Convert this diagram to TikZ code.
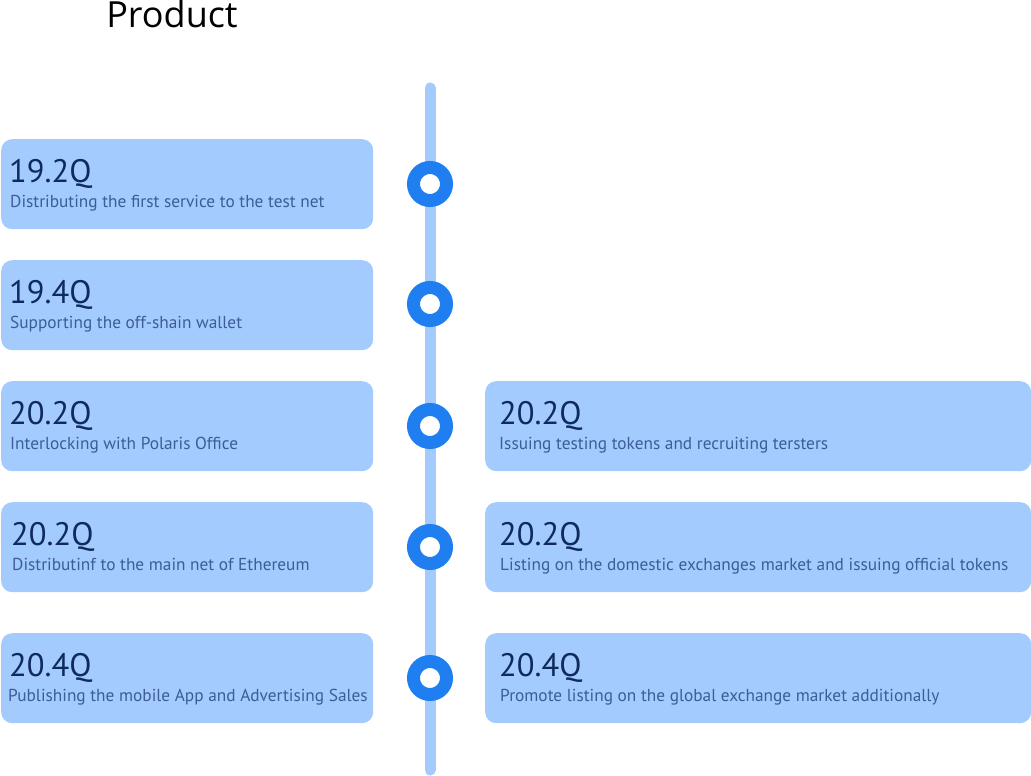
\documentclass[tikz,border=0pt]{standalone}
\usepackage{fontspec}
\setmainfont{PT Sans}
\newfontfamily\titlefont{Open Sans}
\definecolor{boxfill}{HTML}{A4CBFD}
\definecolor{linecol}{HTML}{A4CBFD}
\definecolor{ringcol}{HTML}{1F7FF0}
\definecolor{headcol}{HTML}{0E2B5C}
\definecolor{desccol}{HTML}{3C5D97}
\begin{document}
\begin{tikzpicture}[x=1pt,y=-1pt,
  card/.style={fill=boxfill,rounded corners=11pt,inner sep=0pt,anchor=north west},
  head/.style={anchor=base west,inner sep=0pt,text=headcol,font=\fontsize{32.5}{32}\selectfont},
  desc/.style={anchor=base west,inner sep=0pt,text=desccol,font=\fontsize{17.3}{17}\selectfont},
  ring/.style={circle,draw=ringcol,line width=13pt,fill=white,minimum size=33pt,inner sep=0pt}]
\useasboundingbox (0,0) rectangle (1031,776);
\node[anchor=base,inner sep=0pt,font=\titlefont\fontsize{36}{36}\selectfont] (title) at (172,28) {Product};
% timeline
\coordinate (ltop) at (430,88);
\coordinate (lbot) at (430,770);
\draw[linecol,line width=11pt,line cap=round] (ltop) -- (lbot);
% rings
\node[ring] (r1) at (430,184) {};
\node[ring] (r2) at (430,304) {};
\node[ring] (r3) at (430,426) {};
\node[ring] (r4) at (430,547) {};
\node[ring] (r5) at (430,678) {};
% left cards
\node[card,minimum width=372pt,minimum height=90pt] (L1) at (1,139) {};
\node[card,minimum width=372pt,minimum height=90pt] (L2) at (1,260) {};
\node[card,minimum width=372pt,minimum height=90pt] (L3) at (1,381) {};
\node[card,minimum width=372pt,minimum height=90pt] (L4) at (1,502) {};
\node[card,minimum width=372pt,minimum height=90pt] (L5) at (1,633) {};
% right cards
\node[card,minimum width=546pt,minimum height=90pt] (R3) at (485,381) {};
\node[card,minimum width=546pt,minimum height=90pt] (R4) at (485,502) {};
\node[card,minimum width=546pt,minimum height=90pt] (R5) at (485,633) {};
% left texts
\node[head] (L1h) at (9,182) {19.2Q};
\node[desc] (L1d) at (10,207) {Distributing the first service to the test net};
\node[head] (L2h) at (9,303) {19.4Q};
\node[desc] (L2d) at (10,328) {Supporting the off-shain wallet};
\node[head] (L3h) at (9,424) {20.2Q};
\node[desc] (L3d) at (10,449) {Interlocking with Polaris Office};
\node[head] (L4h) at (11,545) {20.2Q};
\node[desc] (L4d) at (12,570) {Distributinf to the main net of Ethereum};
\node[head] (L5h) at (9,676) {20.4Q};
\node[desc] (L5d) at (8,701) {Publishing the mobile App and Advertising Sales};
% right texts
\node[head] (R3h) at (499,424) {20.2Q};
\node[desc] (R3d) at (499,449) {Issuing testing tokens and recruiting tersters};
\node[head] (R4h) at (499,545) {20.2Q};
\node[desc] (R4d) at (500,570) {Listing on the domestic exchanges market and issuing official tokens};
\node[head] (R5h) at (499,676) {20.4Q};
\node[desc] (R5d) at (500,701) {Promote listing on the global exchange market additionally};
\end{tikzpicture}
\end{document}
